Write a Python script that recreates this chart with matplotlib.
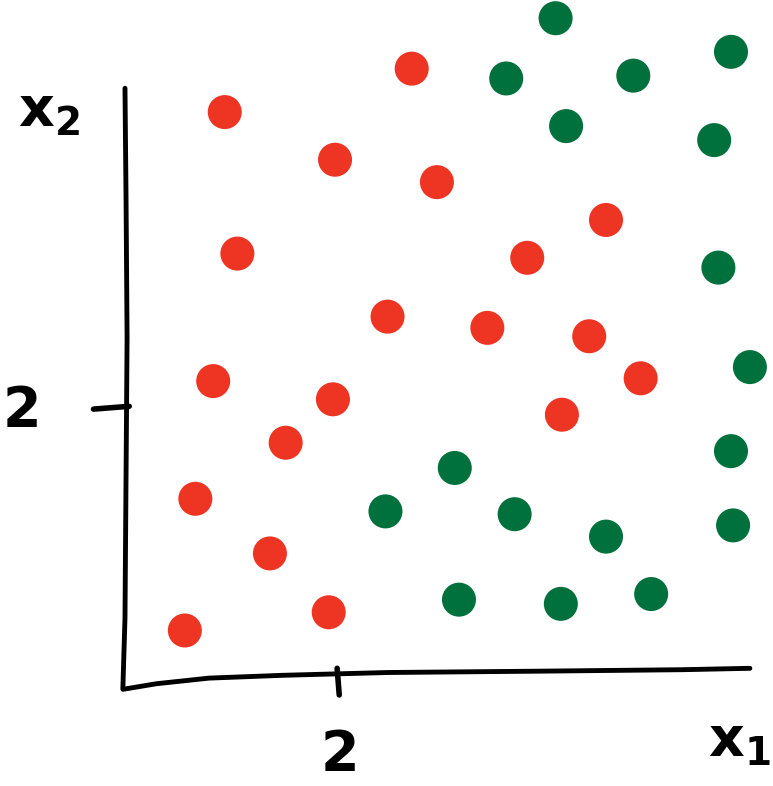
import matplotlib
matplotlib.use('Agg')
import matplotlib.pyplot as plt
import numpy as np

# red class
red_x1 = [0.95, 2.73, 2.00, 2.97, 4.58, 1.07, 3.83, 2.50, 3.45, 4.42,
          0.84, 4.91, 1.98, 4.16, 1.53, 0.67, 1.38, 1.94, 0.57]
red_x2 = [4.11, 4.42, 3.77, 3.61, 3.34, 3.10, 3.07, 2.65, 2.57, 2.51,
          2.19, 2.21, 2.06, 1.95, 1.75, 1.35, 0.96, 0.54, 0.41]

# green class
green_x1 = [4.10, 3.63, 4.84, 5.77, 4.20, 5.61, 5.65, 5.95, 3.14, 5.77,
            2.48, 3.71, 4.58, 5.79, 3.18, 4.15, 5.01]
green_x2 = [4.78, 4.35, 4.37, 4.54, 4.01, 3.91, 3.00, 2.29, 1.57, 1.69,
            1.26, 1.24, 1.08, 1.16, 0.63, 0.60, 0.67]

fig = plt.figure(figsize=(7.73, 7.86), dpi=100)
ax = fig.add_axes([0, 0, 1, 1])
ax.set_xlim(-1.19, 6.17)
ax.set_ylim(-0.70, 4.91)
ax.axis('off')

ax.scatter(red_x1, red_x2, s=600, color='#ee3524', edgecolors='none', zorder=3)
ax.scatter(green_x1, green_x2, s=600, color='#00703c', edgecolors='none', zorder=3)

# hand drawn axes
ax.plot([0.0, 0.01, 0.02, 0.01, 0.0, -0.02], [4.28, 3.5, 2.5, 1.5, 0.5, 0.0],
        color='black', lw=3.5, solid_capstyle='round')
ax.plot([-0.02, 0.3, 0.8, 1.5, 2.5, 4.0, 5.3, 5.95],
        [-0.01, 0.03, 0.07, 0.09, 0.11, 0.12, 0.13, 0.14],
        color='black', lw=3.5, solid_capstyle='round')
ax.plot([2.02, 2.04], [0.14, -0.05], color='black', lw=4, solid_capstyle='round')
ax.plot([-0.30, 0.04], [1.99, 2.01], color='black', lw=4, solid_capstyle='round')

ax.text(2.05, -0.48, '2', fontsize=40, fontweight='bold', ha='center', va='center')
ax.text(-0.98, 1.98, '2', fontsize=40, fontweight='bold', ha='center', va='center')
ax.text(-0.72, 4.12, r'$\mathbf{x_2}$', fontsize=40, ha='center', va='center')
ax.text(5.85, -0.38, r'$\mathbf{x_1}$', fontsize=40, ha='center', va='center')

plt.savefig('out.png', dpi=100)
